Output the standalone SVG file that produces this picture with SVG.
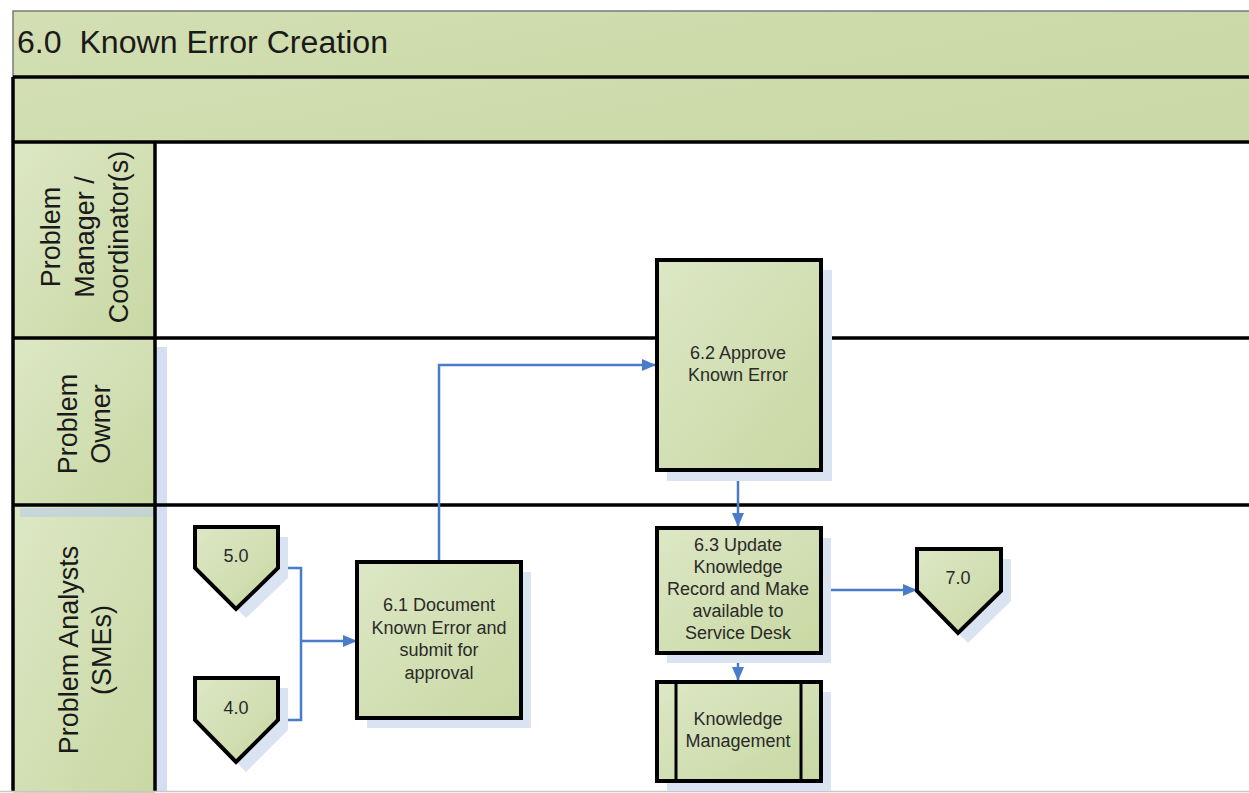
<svg xmlns="http://www.w3.org/2000/svg" width="1249" height="793" viewBox="0 0 1249 793">
<defs>
<linearGradient id="g" x1="0" y1="0" x2="1" y2="1">
<stop offset="0" stop-color="#dde7c5"/>
<stop offset="1" stop-color="#c8d8a3"/>
</linearGradient>
<linearGradient id="gb" x1="0" y1="0" x2="1" y2="0.3">
<stop offset="0" stop-color="#d3dfb3"/>
<stop offset="1" stop-color="#cad9a7"/>
</linearGradient>
<marker id="arr" viewBox="0 0 14 12" refX="14" refY="6" markerWidth="14" markerHeight="12" markerUnits="userSpaceOnUse" orient="auto">
<path d="M0,0 L14,6 L0,12 Z" fill="#4a7cc9"/>
</marker>
<style>
.node{fill:url(#g);stroke:#000;stroke-width:4;stroke-linejoin:miter}
.sh{fill:#d9e3f2}
.t{font-family:"Liberation Sans",Arial,sans-serif;font-size:18px;fill:#2a2a2a;text-anchor:middle}
.lane{font-family:"Liberation Sans",Arial,sans-serif;font-size:27px;fill:#1a1a1a;text-anchor:middle}
.sep{stroke:#000;stroke-width:3.5;fill:none}
.con{stroke:#4a7cc9;stroke-width:2.5;fill:none}
</style>
</defs>
<rect x="0" y="0" width="1249" height="793" fill="#ffffff"/>
<g id="pool">
<rect x="13" y="11" width="1240" height="66" fill="url(#gb)" stroke="#7a7a7a" stroke-width="1.5"/>
<rect x="13" y="77" width="1240" height="65" fill="url(#gb)"/>
<rect x="13" y="142" width="142" height="196" fill="url(#g)"/>
<rect x="13" y="338" width="142" height="167" fill="url(#g)"/>
<rect x="13" y="505" width="142" height="290" fill="url(#g)"/>
<rect x="155" y="347" width="12" height="444" fill="#c9d7ee" opacity="0.8"/>
<rect x="20" y="508" width="135" height="9" fill="#b9cbe6" opacity="0.6"/>
<line class="sep" x1="13" y1="77" x2="1249" y2="77"/>
<line class="sep" x1="13" y1="142" x2="1249" y2="142"/>
<line class="sep" x1="13" y1="338" x2="1249" y2="338"/>
<line class="sep" x1="13" y1="505" x2="1249" y2="505"/>
<line class="sep" x1="13" y1="77" x2="13" y2="791"/>
<line class="sep" x1="155" y1="142" x2="155" y2="791"/>
<line x1="0" y1="791.5" x2="1249" y2="791.5" stroke="#c8c8c8" stroke-width="1.5"/>
<text x="17" y="53" font-family="'Liberation Sans',Arial,sans-serif" font-size="31" fill="#1a1a1a" xml:space="preserve" style="white-space:pre" textLength="371" lengthAdjust="spacingAndGlyphs">6.0  Known Error Creation</text>
<text class="lane" transform="translate(0,237) rotate(-90)"><tspan x="0" y="60">Problem</tspan><tspan x="0" y="94">Manager /</tspan><tspan x="0" y="128">Coordinator(s)</tspan></text>
<text class="lane" transform="translate(0,424) rotate(-90)"><tspan x="0" y="77">Problem</tspan><tspan x="0" y="110">Owner</tspan></text>
<text class="lane" transform="translate(0,650) rotate(-90)"><tspan x="0" y="78">Problem Analysts</tspan><tspan x="0" y="111">(SMEs)</tspan></text>
</g>
<g id="connectors">
<polyline class="con" points="278,568 301,568 301,720 278,720"/>
<line class="con" x1="301" y1="641" x2="357" y2="641" marker-end="url(#arr)"/>
<polyline class="con" points="439,562 439,365 656,365" marker-end="url(#arr)"/>
<line class="con" x1="738" y1="470" x2="738" y2="527" marker-end="url(#arr)"/>
<line class="con" x1="821" y1="590" x2="917" y2="590" marker-end="url(#arr)"/>
<line class="con" x1="738" y1="653" x2="738" y2="681" marker-end="url(#arr)"/>
</g>
<g id="n50">
<polygon class="sh" points="205,537 288,537 288,578 246,618 205,578"/>
<polygon class="node" points="195,527 278,527 278,568 236,609 195,568"/>
<text class="t" x="236" y="562">5.0</text>
</g>
<g id="n40">
<polygon class="sh" points="205,688 288,688 288,730 246,772 205,730"/>
<polygon class="node" points="195,678 278,678 278,720 236,762 195,720"/>
<text class="t" x="236" y="714">4.0</text>
</g>
<g id="n61">
<rect class="sh" x="367" y="572" width="164" height="156"/>
<rect class="node" x="357" y="562" width="164" height="156"/>
<text class="t" x="439" y="611"><tspan x="439">6.1 Document</tspan><tspan x="439" dy="22.5">Known Error and</tspan><tspan x="439" dy="22.5">submit for</tspan><tspan x="439" dy="22.5">approval</tspan></text>
</g>
<g id="n62">
<rect class="sh" x="667" y="270" width="165" height="211"/>
<rect class="node" x="657" y="260" width="164" height="210"/>
<text class="t" x="738" y="359"><tspan x="738">6.2 Approve</tspan><tspan x="738" dy="22">Known Error</tspan></text>
</g>
<g id="n63">
<rect class="sh" x="667" y="538" width="164" height="125"/>
<rect class="node" x="657" y="528" width="164" height="125"/>
<text class="t" x="738" y="551"><tspan x="738">6.3 Update</tspan><tspan x="738" dy="22">Knowledge</tspan><tspan x="738" dy="22">Record and Make</tspan><tspan x="738" dy="22">available to</tspan><tspan x="738" dy="22">Service Desk</tspan></text>
</g>
<g id="n70">
<polygon class="sh" points="927,559 1011,559 1011,601 968,643 927,601"/>
<polygon class="node" points="917,549 1001,549 1001,591 958,633 917,591"/>
<text class="t" x="958" y="584">7.0</text>
</g>
<g id="nkm">
<rect class="sh" x="667" y="692" width="164" height="99"/>
<rect class="node" x="657" y="682" width="164" height="99"/>
<line x1="676" y1="682" x2="676" y2="781" stroke="#000" stroke-width="3"/>
<line x1="801" y1="682" x2="801" y2="781" stroke="#000" stroke-width="3"/>
<text class="t" x="738" y="725"><tspan x="738">Knowledge</tspan><tspan x="738" dy="22">Management</tspan></text>
</g>
</svg>
